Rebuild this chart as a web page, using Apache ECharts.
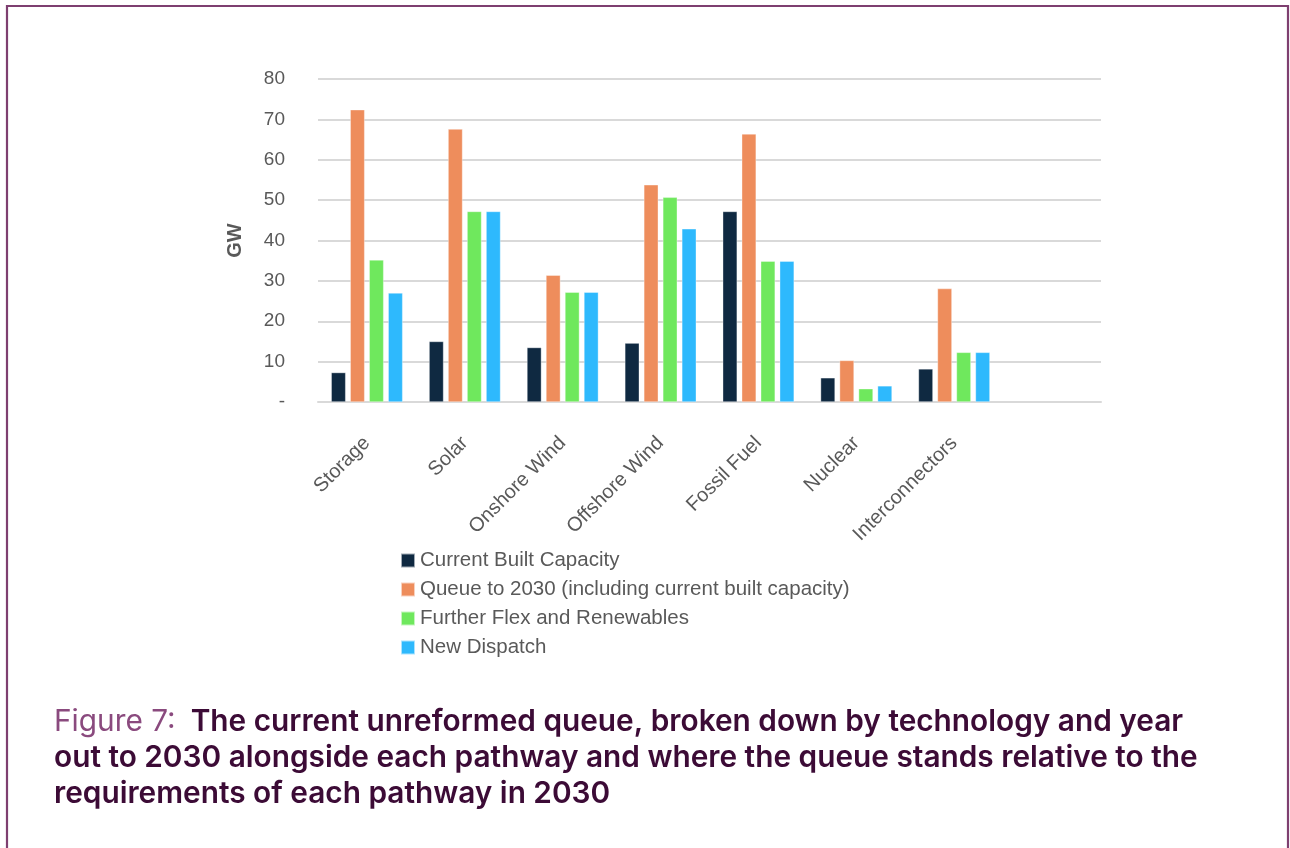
<!DOCTYPE html>
<html>
<head>
<meta charset="utf-8">
<script src="https://cdn.jsdelivr.net/npm/echarts@6/dist/echarts.min.js"></script>
<style>
html,body{margin:0;padding:0;background:#fff;}
#chart{width:1290px;height:848px;}
</style>
</head>
<body>
<div id="chart"></div>
<script>
const categories = ['Storage', 'Solar', 'Onshore Wind', 'Offshore Wind', 'Fossil Fuel', 'Nuclear', 'Interconnectors', ''];
const seriesNames = ['Current Built Capacity', 'Queue to 2030 (including current built capacity)', 'Further Flex and Renewables', 'New Dispatch'];
const currentBuilt = [7.3, 15.0, 13.5, 14.6, 47.2, 6.0, 8.2, null];
const queueTo2030 = [72.4, 67.6, 31.4, 53.8, 66.4, 10.3, 28.1, null];
const furtherFlex = [35.2, 47.2, 27.2, 50.7, 34.9, 3.3, 12.3, null];
const newDispatch = [27.0, 47.2, 27.2, 42.9, 34.9, 4.0, 12.3, null];
const yTicks = { min: 0, max: 80, interval: 10 };
const captionLines = [
  ['Figure 7:', '  The current unreformed queue, broken down by technology and year'],
  ['', 'out to 2030 alongside each pathway and where the queue stands relative to the'],
  ['', 'requirements of each pathway in 2030']
];

const colors = ['#0f2941', '#ee8d5c', '#6fe85d', '#2eb9fd'];
const values = [currentBuilt, queueTo2030, furtherFlex, newDispatch];
const labelColor = '#595959';
const fontFam = '"Liberation Sans", Arial, sans-serif';
const capFont = 'Inter, "Open Sans", sans-serif';

const chart = echarts.init(document.getElementById('chart'));

const captionGraphics = captionLines.map((ln, i) => ({
  type: 'text',
  left: 54,
  top: 707 + i * 36,
  style: {
    text: (ln[0] ? '{a|' + ln[0] + '}' : '') + '{b|' + ln[1] + '}',
    rich: {
      a: { fill: '#8a4a7e', fontSize: 29.8, fontWeight: 400, fontFamily: capFont },
      b: { fill: '#3c0b36', fontSize: 29.8, fontWeight: 600, fontFamily: capFont }
    }
  }
}));

chart.setOption({
  animation: false,
  backgroundColor: '#ffffff',
  color: colors,
  grid: { left: 318, right: 189, top: 79, bottom: 446, containLabel: false },
  legend: {
    orient: 'vertical',
    left: 400,
    top: 550,
    padding: 0,
    itemWidth: 14,
    itemHeight: 14,
    itemGap: 8,
    icon: 'rect',
    textStyle: { color: labelColor, fontSize: 20.5, fontFamily: fontFam },
    data: seriesNames
  },
  xAxis: {
    type: 'category',
    data: categories,
    axisLine: { lineStyle: { color: '#d9d9d9', width: 2 } },
    axisTick: { show: false },
    axisLabel: {
      interval: 0,
      rotate: 45,
      margin: 38,
      color: labelColor,
      fontSize: 20,
      fontFamily: fontFam
    }
  },
  yAxis: {
    type: 'value',
    min: yTicks.min,
    max: yTicks.max,
    interval: yTicks.interval,
    name: 'GW',
    nameLocation: 'middle',
    nameGap: 73,
    nameTextStyle: { color: labelColor, fontSize: 20, fontWeight: 'bold', fontFamily: fontFam },
    axisLine: { show: false },
    axisTick: { show: false },
    splitLine: { lineStyle: { color: '#d9d9d9', width: 2 } },
    axisLabel: {
      color: labelColor,
      fontSize: 19,
      fontFamily: fontFam,
      margin: 33,
      formatter: v => (v === 0 ? '-' : String(v))
    }
  },
  series: seriesNames.map((name, i) => ({
    name: name,
    type: 'bar',
    data: values[i],
    barWidth: 14.5,
    barGap: '31%',
    itemStyle: { color: colors[i], borderColor: 'rgba(255,255,255,0.6)', borderWidth: 0.6 }
  })),
  graphic: [
    {
      type: 'polyline',
      silent: true,
      shape: { points: [[7, 900], [7, 6], [1288, 6], [1288, 900]] },
      style: { stroke: '#7e3f70', lineWidth: 2.2, fill: null }
    }
  ].concat(captionGraphics)
});
</script>
</body>
</html>
